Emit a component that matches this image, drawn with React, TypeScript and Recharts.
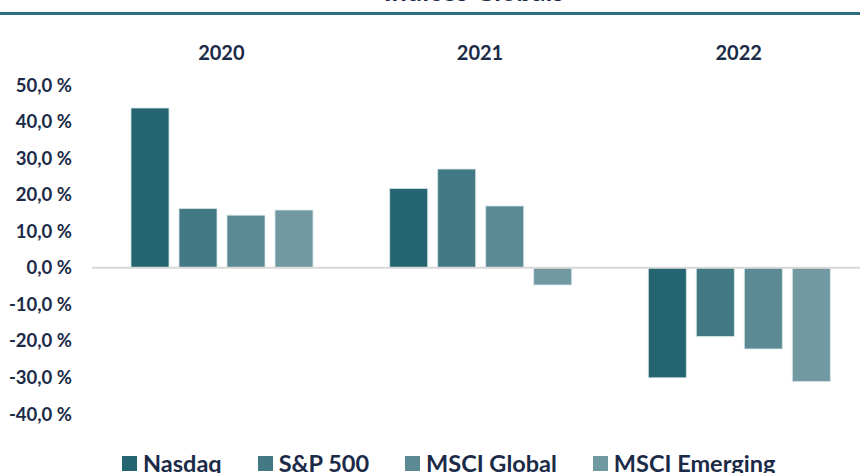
import { BarChart, Bar, XAxis, YAxis, Legend, ReferenceLine } from "recharts";

const years = ["2020", "2021", "2022"];
const nasdaq = [43.7, 21.7, -30.1];
const sp500 = [16.2, 27.0, -18.8];
const msciGlobal = [14.4, 16.9, -22.2];
const msciEmerging = [15.8, -4.7, -31.1];
const yTicks = [-40, -30, -20, -10, 0, 10, 20, 30, 40, 50];

const series = [
  { key: "nasdaq", name: "Nasdaq", color: "#246571" },
  { key: "sp500", name: "S&P 500", color: "#427984" },
  { key: "msciGlobal", name: "MSCI Global", color: "#5b8a94" },
  { key: "msciEmerging", name: "MSCI Emerging", color: "#7199a2" },
];

const data = years.map((year, i) => ({
  year,
  nasdaq: nasdaq[i],
  sp500: sp500[i],
  msciGlobal: msciGlobal[i],
  msciEmerging: msciEmerging[i],
}));

const navy = "#1b2a47";
const font = "Lato, 'Open Sans', sans-serif";

const fmt = (v: number) => `${v.toFixed(1).replace(".", ",")} %`;

const order = series.map((s) => s.name);

const LegendContent = (props: any) => {
  const items = [...(props.payload || [])].sort((a: any, b: any) => order.indexOf(a.value) - order.indexOf(b.value));
  return (
    <div style={{ display: "flex", gap: 36, paddingLeft: 122, fontFamily: font, height: 24 }}>
      {items.map((p: any) => (
        <div key={p.value} style={{ display: "flex", alignItems: "center" }}>
          <span style={{ width: 15, height: 15, background: p.color, marginRight: 6, display: "inline-block" }} />
          <span style={{ color: navy, fontWeight: 700, fontSize: 23.5, lineHeight: "24px" }}>{p.value}</span>
        </div>
      ))}
    </div>
  );
};

export default function App() {
  return (
    <div style={{ position: "fixed", left: 0, top: 0, width: 860, height: 473, overflow: "hidden", background: "#fff" }}>
      <div
        style={{
          position: "absolute",
          left: 0,
          width: 948,
          top: -24,
          textAlign: "center",
          fontFamily: font,
          fontWeight: 700,
          fontSize: 27,
          lineHeight: "30px",
          color: navy,
        }}
      >
        Índices Globais
      </div>
      <div style={{ position: "absolute", left: 0, top: 12, width: 860, height: 3, background: "#2d6e7e" }} />
      <div style={{ position: "absolute", left: 0, top: 0 }}>
        <BarChart
          width={880}
          height={500}
          data={data}
          margin={{ top: 35, right: 12, bottom: 62, left: 0 }}
          barCategoryGap={39}
          barGap={10}
        >
          <XAxis
            dataKey="year"
            orientation="top"
            height={50}
            axisLine={false}
            tickLine={false}
            tickSize={0}
            tickMargin={25}
            tick={{ fill: navy, fontSize: 20, fontWeight: 700, fontFamily: font }}
          />
          <YAxis
            width={92}
            domain={[-40, 50]}
            ticks={yTicks}
            interval={0}
            axisLine={false}
            tickLine={false}
            tickSize={0}
            tickMargin={20}
            tickFormatter={fmt}
            tick={{ fill: navy, fontSize: 18.5, fontWeight: 700, fontFamily: font }}
          />
          <ReferenceLine y={0} stroke="#d9d9d9" strokeWidth={2} />
          {series.map((s) => (
            <Bar
              key={s.key}
              dataKey={s.key}
              name={s.name}
              fill={s.color}
              stroke="#d8e6e9"
              strokeWidth={0.8}
              isAnimationActive={false}
            />
          ))}
          <Legend content={LegendContent} wrapperStyle={{ top: 451, left: 0, width: 880 }} />
        </BarChart>
      </div>
    </div>
  );
}
